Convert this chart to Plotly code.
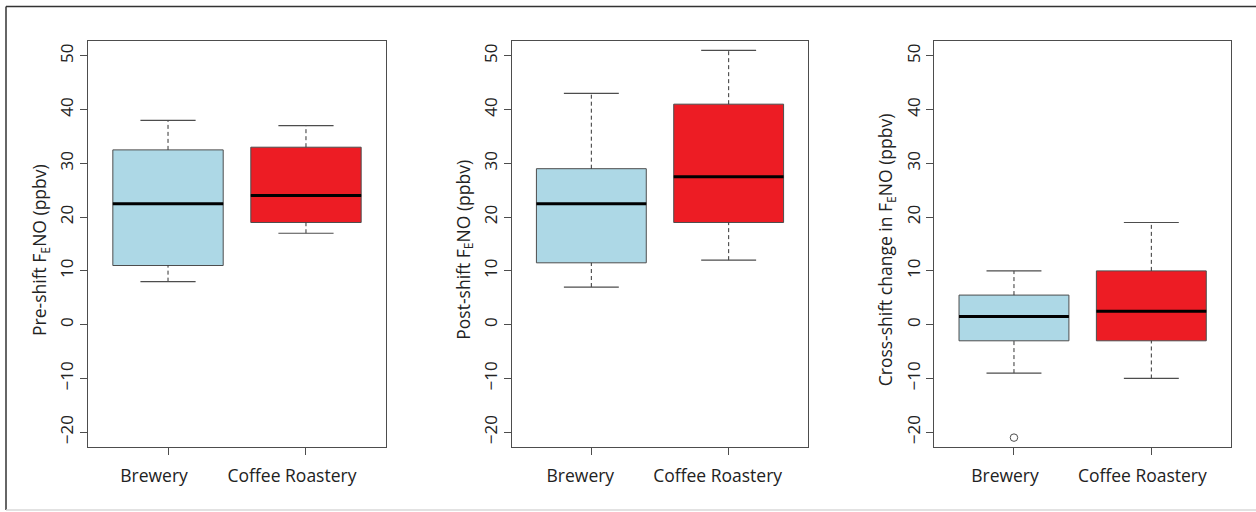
import plotly.graph_objects as go

# Groups and per-panel summary statistics (ppbv)
categories = ["Brewery", "Coffee Roastery"]
panel_titles = [
    "Pre-shift F<sub>E</sub>NO (ppbv)",
    "Post-shift F<sub>E</sub>NO (ppbv)",
    "Cross-shift change in F<sub>E</sub>NO (ppbv)",
]

pre_low = [8, 17]
pre_q1 = [11, 19]
pre_median = [22.5, 24]
pre_q3 = [32.5, 33]
pre_high = [38, 37]

post_low = [7, 12]
post_q1 = [11.5, 19]
post_median = [22.5, 27.5]
post_q3 = [29, 41]
post_high = [43, 51]

cross_low = [-9, -10]
cross_q1 = [-3, -3]
cross_median = [1.5, 2.5]
cross_q3 = [5.5, 10]
cross_high = [10, 19]

# Outliers beyond the whiskers: (group index, value)
cross_outliers = [(0, -21)]

y_ticks = [-20, -10, 0, 10, 20, 30, 40, 50]

panels = [
    (pre_low, pre_q1, pre_median, pre_q3, pre_high, []),
    (post_low, post_q1, post_median, post_q3, post_high, []),
    (cross_low, cross_q1, cross_median, cross_q3, cross_high, cross_outliers),
]

# ---- layout geometry (pixels) ----
W, H = 1256, 512
FONT = "Open Sans"
fill_colors = ["#ADD8E6", "#ED1C24"]
edge = "#4d4d4d"
x_px = [(88, 386), (511.7, 808.3), (934.3, 1231)]
y_top_px, y_bot_px = 40.7, 447.3
label_shift = [-14, -11, -9]
box_w = 0.8
staple_w = 0.4

fig = go.Figure()

for p, (lo, q1, med, q3, hi, outl) in enumerate(panels):
    xa = "x" if p == 0 else f"x{p + 1}"
    ya = "y" if p == 0 else f"y{p + 1}"
    pos = list(range(1, len(categories) + 1))
    for i, xi in enumerate(pos):
        # box body
        fig.add_trace(go.Box(
            x=[xi], q1=[q1[i]], median=[med[i]], q3=[q3[i]],
            lowerfence=[q1[i]], upperfence=[q3[i]],
            width=box_w, whiskerwidth=0,
            fillcolor=fill_colors[i], line=dict(color=edge, width=1),
            boxpoints=False, hoverinfo="skip", showlegend=False,
            xaxis=xa, yaxis=ya,
        ))
        # dashed whiskers
        fig.add_trace(go.Scatter(
            x=[xi, xi, None, xi, xi], y=[q3[i], hi[i], None, lo[i], q1[i]],
            mode="lines", line=dict(color="#333333", width=1, dash="4px,3px"),
            hoverinfo="skip", showlegend=False, xaxis=xa, yaxis=ya,
        ))
        # staples
        fig.add_trace(go.Scatter(
            x=[xi - staple_w / 2, xi + staple_w / 2, None, xi - staple_w / 2, xi + staple_w / 2],
            y=[hi[i], hi[i], None, lo[i], lo[i]],
            mode="lines", line=dict(color=edge, width=1.2),
            hoverinfo="skip", showlegend=False, xaxis=xa, yaxis=ya,
        ))
        # median bar
        fig.add_trace(go.Scatter(
            x=[xi - box_w / 2, xi + box_w / 2], y=[med[i], med[i]],
            mode="lines", line=dict(color="black", width=3),
            hoverinfo="skip", showlegend=False, xaxis=xa, yaxis=ya,
        ))
    if outl:
        fig.add_trace(go.Scatter(
            x=[pos[g] for g, _ in outl], y=[v for _, v in outl],
            mode="markers",
            marker=dict(symbol="circle-open", size=7.5, color=edge, line=dict(width=1)),
            hoverinfo="skip", showlegend=False, xaxis=xa, yaxis=ya,
        ))

    x0, x1 = x_px[p]
    common = dict(showline=True, mirror=True, linecolor=edge, linewidth=1,
                  ticks="outside", ticklen=7, tickcolor=edge, tickwidth=1,
                  showgrid=False, zeroline=False, fixedrange=True)
    fig.layout[("xaxis" if p == 0 else f"xaxis{p + 1}")] = dict(
        domain=[x0 / W, x1 / W], range=[0.42, 2.58],
        tickvals=pos, ticktext=categories,
        ticklabelshift=label_shift[p], ticklabelstandoff=6,
        tickfont=dict(family=FONT, size=17.5, color="#222222"),
        anchor=ya, **common,
    )
    fig.layout[("yaxis" if p == 0 else f"yaxis{p + 1}")] = dict(
        domain=[1 - y_bot_px / H, 1 - y_top_px / H], range=[-22.8, 52.8],
        tickvals=y_ticks, tickangle=-90,
        tickfont=dict(family=FONT, size=17, color="#222222"),
        anchor=xa, **common,
    )
    # y-axis title
    fig.add_annotation(
        x=(x0 - 48) / W, xref="paper", y=1 - 250 / H, yref="paper",
        text=panel_titles[p], showarrow=False, textangle=-90,
        font=dict(family=FONT, size=17.5, color="#222222"),
        xanchor="center", yanchor="middle",
    )

# outer frame: dark top/left rules, faint bottom rule
fig.add_shape(type="line", xref="paper", yref="paper",
              x0=6 / W, x1=1, y0=1 - 6.5 / H, y1=1 - 6.5 / H,
              line=dict(color="#333333", width=1.5))
fig.add_shape(type="line", xref="paper", yref="paper",
              x0=6 / W, x1=6 / W, y0=1 - 6.5 / H, y1=1 - 510 / H,
              line=dict(color="#333333", width=1.5))
fig.add_shape(type="line", xref="paper", yref="paper",
              x0=6 / W, x1=1, y0=1 - 510 / H, y1=1 - 510 / H,
              line=dict(color="#d9d9d9", width=1.5))

fig.update_layout(
    width=W, height=H,
    margin=dict(l=0, r=0, t=0, b=0),
    paper_bgcolor="white", plot_bgcolor="white",
    font=dict(family=FONT, color="#222222"),
    showlegend=False,
)

fig.write_html("out.html", config={"displayModeBar": False})
